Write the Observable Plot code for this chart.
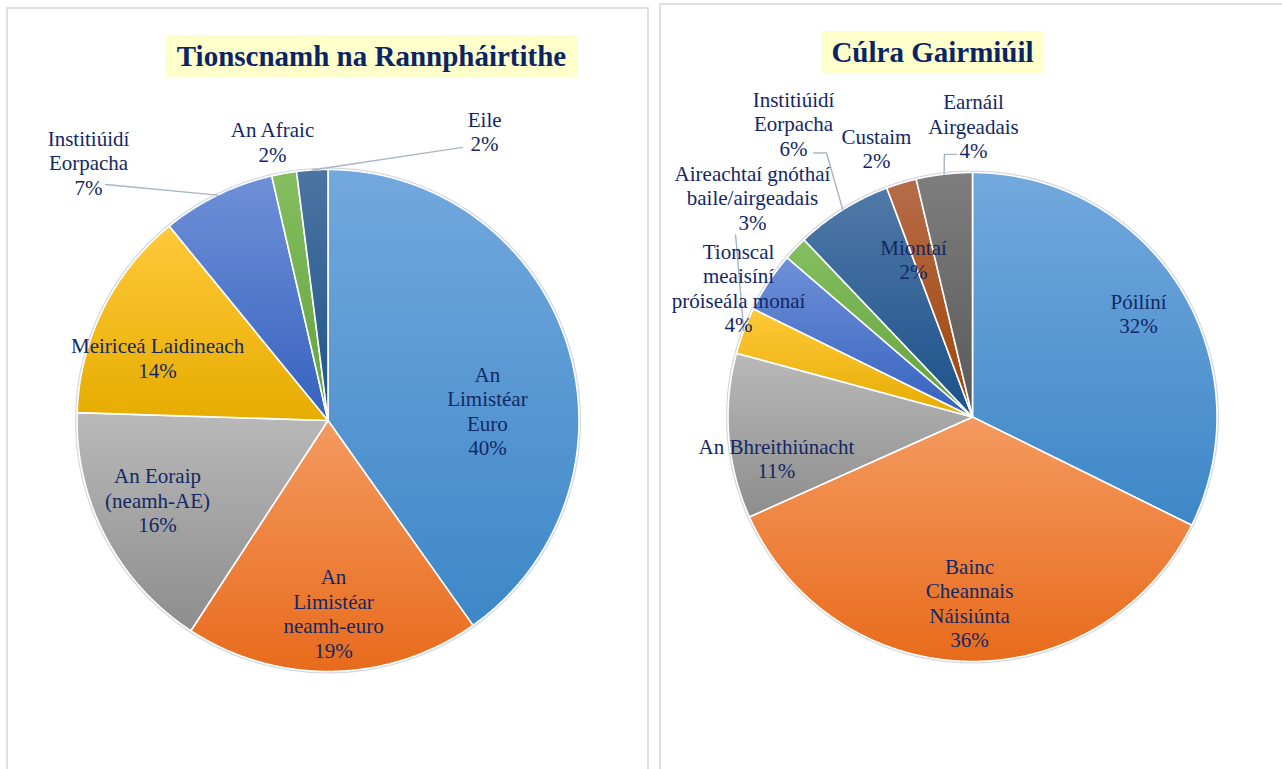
<!DOCTYPE html>
<html>
<head>
<meta charset="utf-8">
<script src="https://cdn.jsdelivr.net/npm/d3@7"></script>
<script src="https://cdn.jsdelivr.net/npm/@observablehq/plot@0.6"></script>
<style>
  html, body { margin: 0; padding: 0; background: #fff; }
  body { width: 1282px; height: 769px; overflow: hidden; position: relative; font-family: "Liberation Serif", "Times New Roman", serif; }
  .panel { position: absolute; box-sizing: border-box; border: 2px solid #dde0e5; background: #fff; }
  .title { position: absolute; box-sizing: border-box; background: #ffffcc; color: #0b2466; font-weight: bold; font-size: 29px; line-height: 42px; height: 42px; text-align: center; white-space: nowrap; }
  .chart { position: absolute; }
  .chart svg { overflow: visible; }
</style>
</head>
<body>
<div class="panel" style="left:6px;top:7px;width:643px;height:800px;"></div>
<div class="panel" style="left:659px;top:3px;width:700px;height:800px;"></div>
<div id="leftChart" class="chart" style="left:8px;top:10px;"></div>
<div id="rightChart" class="chart" style="left:661px;top:6px;"></div>
<div class="title" id="leftTitle" style="left:166px;top:35px;width:411px;"></div>
<div class="title" id="rightTitle" style="left:822px;top:31px;width:221px;"></div>
<script>
// ---------------- DATA ----------------
const leftTitle = "Tionscnamh na Rannpháirtithe";
const leftCategories = ["An\nLimistéar\nEuro", "An\nLimistéar\nneamh-euro", "An Eoraip\n(neamh-AE)", "Meiriceá Laidineach", "Institiúidí\nEorpacha", "An Afraic", "Eile"];
const leftValues = [40.2, 19.0, 16.3, 13.6, 7.3, 1.6, 2.0];

const rightTitle = "Cúlra Gairmiúil";
const rightCategories = ["Póilíní", "Bainc\nCheannais\nNáisiúnta", "An Bhreithiúnacht", "Aireachtaí gnóthaí\nbaile/airgeadais", "Tionscal\nmeaisíní\npróiseála monaí", "Miontaí", "Institiúidí\nEorpacha", "Custaim", "Earnáil\nAirgeadais"];
const rightValues = [32.3, 36.0, 10.9, 3.1, 4.0, 1.6, 6.4, 2.0, 3.7];

// ---------------- STYLE / LAYOUT ----------------
const leftColors = [["#72a8dd", "#3d87c8"], ["#f49a60", "#e86b1c"], ["#b9b9b9", "#8d8d8d"], ["#ffc93a", "#e6ac00"], ["#6f90d8", "#3562be"], ["#84be60", "#63a23c"], ["#4b74a2", "#1e5488"]];
const rightColors = [["#72a8dd", "#3d87c8"], ["#f49a60", "#e86b1c"], ["#b9b9b9", "#8d8d8d"], ["#ffc93a", "#e6ac00"], ["#6f90d8", "#3562be"], ["#84be60", "#63a23c"], ["#5079a8", "#1b5189"], ["#b66c4a", "#9f4406"], ["#7e7e7e", "#585858"]];

// label centres in pie-radius units (u right, v up)
const leftLabelPos = [[0.635, 0.040], [0.022, -0.767], [-0.679, -0.317], [-0.679, 0.251], [-0.954, 1.028], [-0.221, 1.110], [0.624, 1.153]];
const rightLabelPos = [[0.679, 0.425], [-0.012, -0.759], [-0.802, -0.168], [-0.900, 0.898], [-0.957, 0.528], [-0.241, 0.646], [-0.732, 1.200], [-0.393, 1.100], [0.004, 1.190]];
// leader lines: slice index + points before reaching the slice edge
const leftLeaders = [{i: 4, pts: [[-0.886, 0.940]]}, {i: 6, pts: [[0.536, 1.088]]}];
const rightLeaders = [{i: 6, pts: [[-0.650, 1.080], [-0.597, 1.080]]}, {i: 8, pts: [[-0.065, 1.074], [-0.115, 1.074]]}, {i: 3, pts: [[-0.969, 0.745]]}];

function pieChart({container, id, categories, values, colors, labelPos, leaders, width, height, cx, cy, r}) {
  const total = d3.sum(values);
  const arcs = d3.pie().sort(null).value(d => d)(values);
  const slices = arcs.map((a, i) => {
    const n = Math.max(4, Math.ceil((a.endAngle - a.startAngle) / 0.005));
    const pts = [{x: 0, y: 0}];
    for (let k = 0; k <= n; k++) {
      const t = a.startAngle + (a.endAngle - a.startAngle) * k / n;
      pts.push({x: Math.sin(t), y: Math.cos(t)});
    }
    pts.push({x: 0, y: 0});
    return {i, pts, mid: (a.startAngle + a.endAngle) / 2};
  });
  const labels = categories.map((c, i) => ({
    x: labelPos[i][0], y: labelPos[i][1],
    t: c + "\n" + Math.round(values[i] / total * 100) + "%"
  }));
  const leaderPts = [];
  leaders.forEach((L, k) => {
    L.pts.forEach(p => leaderPts.push({k, x: p[0], y: p[1]}));
    const m = slices[L.i].mid;
    leaderPts.push({k, x: Math.sin(m), y: Math.cos(m)});
  });
  const marks = [
    Plot.dot([{x: 0, y: 0}], {x: "x", y: "y", r: r + 1, fill: "none", stroke: "#d3d8e0", strokeWidth: 2}),
    ...slices.map(s => Plot.line(s.pts, {x: "x", y: "y", fill: `url(#${id}g${s.i})`, stroke: "#ffffff", strokeWidth: 1.6, strokeLinejoin: "round"})),
    Plot.line(leaderPts, {x: "x", y: "y", z: "k", stroke: "#a8b5c8", strokeWidth: 1.4}),
    Plot.text(labels, {x: "x", y: "y", text: "t", fontSize: 21, fontFamily: "Liberation Serif", fill: "#122865", lineHeight: 1.167, textAnchor: "middle", lineAnchor: "middle"})
  ];
  const svg = Plot.plot({
    width, height, margin: 0,
    x: {domain: [-1, 1], range: [cx - r, cx + r], axis: null},
    y: {domain: [-1, 1], range: [cy + r, cy - r], axis: null},
    style: {background: "transparent", overflow: "visible", fontFamily: "Liberation Serif"},
    marks
  });
  const defs = d3.select(svg).insert("defs", ":first-child");
  colors.forEach((c, i) => {
    const g = defs.append("linearGradient").attr("id", `${id}g${i}`).attr("x1", 0).attr("y1", 0).attr("x2", 0).attr("y2", 1);
    g.append("stop").attr("offset", "0%").attr("stop-color", c[0]);
    g.append("stop").attr("offset", "100%").attr("stop-color", c[1]);
  });
  container.appendChild(svg);
}

document.getElementById("leftTitle").textContent = leftTitle;
document.getElementById("rightTitle").textContent = rightTitle;

pieChart({container: document.getElementById("leftChart"), id: "L", categories: leftCategories, values: leftValues, colors: leftColors, labelPos: leftLabelPos, leaders: leftLeaders, width: 638, height: 759, cx: 319.5, cy: 410, r: 251});
pieChart({container: document.getElementById("rightChart"), id: "R", categories: rightCategories, values: rightValues, colors: rightColors, labelPos: rightLabelPos, leaders: rightLeaders, width: 621, height: 763, cx: 311, cy: 410.5, r: 244.5});
</script>
</body>
</html>
